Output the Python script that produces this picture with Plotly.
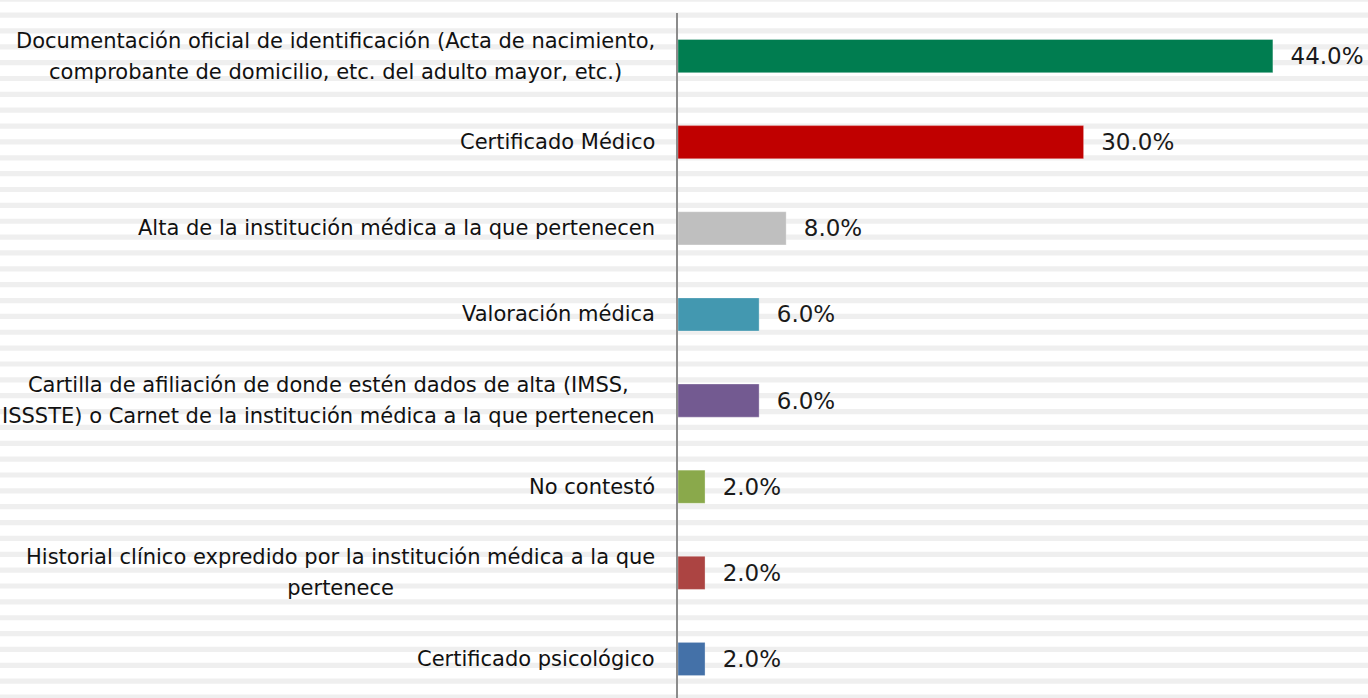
import plotly.graph_objects as go

categories = [
    "Documentación oficial de identificación (Acta de nacimiento,<br>comprobante de domicilio, etc. del adulto mayor, etc.)",
    "Certificado Médico",
    "Alta de la institución médica a la que pertenecen",
    "Valoración médica",
    "Cartilla de afiliación de donde estén dados de alta (IMSS,<br>ISSSTE) o Carnet de la institución médica a la que pertenecen",
    "No contestó",
    "Historial clínico expredido por la institución médica a la que<br>pertenece",
    "Certificado psicológico",
]
values = [44.0, 30.0, 8.0, 6.0, 6.0, 2.0, 2.0, 2.0]
colors = ["#007d50", "#c00000", "#bfbfbf", "#4398b0", "#735a91", "#8aa94b", "#ac4442", "#4471a8"]

W, H = 1368, 698
ML, MT = 678, 13
plot_w = W - ML
plot_h = H - MT
FONT = "DejaVu Sans, sans-serif"
LAB_SIZE = 21

ypos = list(range(len(categories)))

fig = go.Figure(go.Bar(
    y=ypos,
    x=values,
    orientation="h",
    marker=dict(color=colors, line=dict(color="rgba(255,255,255,0.3)", width=1)),
    width=0.385,
    text=["\u00a0\u00a0" + f"{v:.1f}%" for v in values],
    textposition="outside",
    textfont=dict(family=FONT, size=23, color="#1a1a1a"),
    cliponaxis=False,
))

# category labels: right-aligned block, wrapped lines centred, ~31px line gap
annotations = []
for i, lab in enumerate(categories):
    lines = lab.split("<br>")
    if len(lines) == 1:
        txt, fsize = lines[0], LAB_SIZE
    else:
        txt = "<br>".join(f"<span style='font-size:{LAB_SIZE}px'>{ln}</span>" for ln in lines)
        fsize = 24  # sets line spacing (1.3em ≈ 31px)
    annotations.append(dict(
        xref="paper", yref="y", x=0, y=i, xanchor="right", yanchor="middle",
        xshift=-21, showarrow=False, align="center", text=txt,
        font=dict(family=FONT, size=fsize, color="#111111"),
    ))

# background stripes
shapes = []
period = 15.86
k = 0
while True:
    c = -0.8 + k * period
    if c - 3 > H:
        break
    y0p, y1p = c - 2.6, c + 2.6
    shapes.append(dict(
        type="rect", xref="paper", yref="paper", layer="below",
        x0=-ML / plot_w, x1=1,
        y0=(H - y1p) / plot_h, y1=(H - y0p) / plot_h,
        fillcolor="#efefef", line=dict(width=0),
    ))
    k += 1

fig.update_layout(
    width=W, height=H,
    margin=dict(l=ML, r=0, t=MT, b=0),
    paper_bgcolor="white",
    plot_bgcolor="rgba(0,0,0,0)",
    shapes=shapes,
    annotations=annotations,
    showlegend=False,
    xaxis=dict(range=[0, plot_w / 13.52], visible=False, showgrid=False, zeroline=False),
    yaxis=dict(
        range=[7.453, -0.5],
        showticklabels=False,
        showgrid=False, zeroline=False,
        showline=True, linecolor="#8c8c8c", linewidth=1.5,
        ticks="",
    ),
)

fig.write_html("out.html", config={"displayModeBar": False},
               post_script="document.body.style.margin='0';")
